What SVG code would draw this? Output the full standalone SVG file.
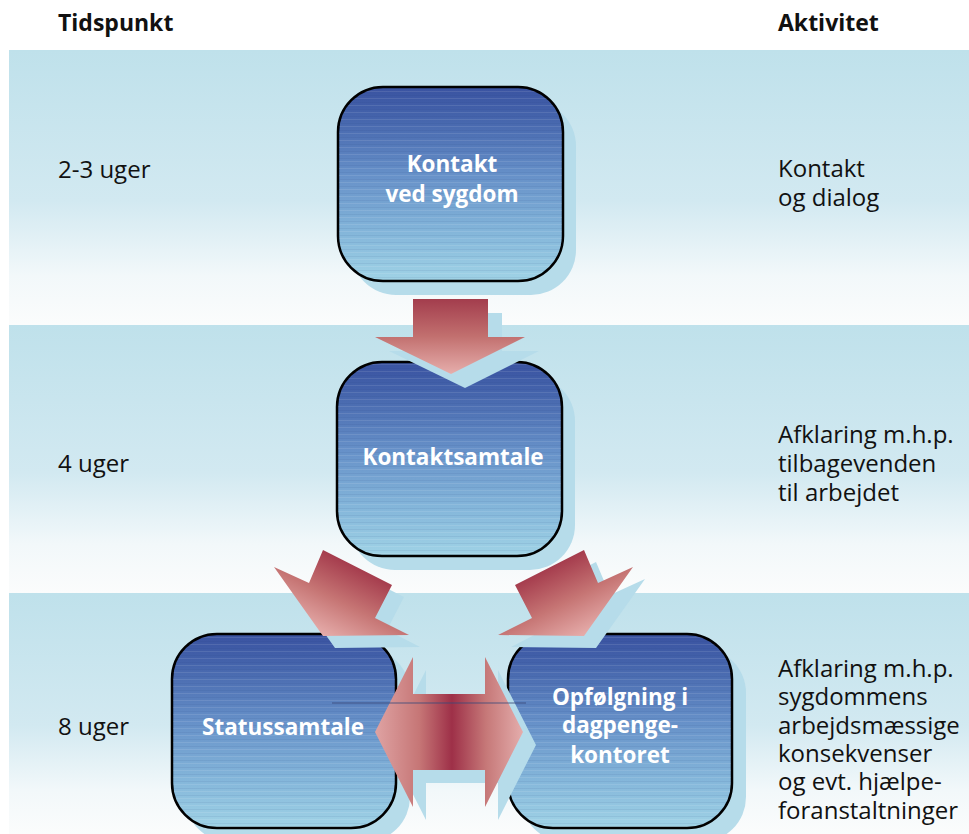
<svg xmlns="http://www.w3.org/2000/svg" width="969" height="834" viewBox="0 0 969 834">
<style>
.lbl{font-family:"Open Sans","Noto Sans","Liberation Sans",sans-serif;font-size:24px;fill:#111}
.hd{font-family:"Open Sans","Noto Sans","Liberation Sans",sans-serif;font-size:23px;font-weight:bold;fill:#111}
.bx{font-family:"Open Sans","Noto Sans","Liberation Sans",sans-serif;font-size:22.5px;font-weight:bold;fill:#fff;text-anchor:middle}
.box{fill:url(#boxg);stroke:#000;stroke-width:2.5}
.stripe{fill:url(#stripes)}
.shadow{fill:#b6dcea}
</style>
<defs>
<linearGradient id="band" x1="0" y1="0" x2="0" y2="1">
<stop offset="0" stop-color="#bfe1eb"/>
<stop offset="0.55" stop-color="#d2e9f1"/>
<stop offset="0.82" stop-color="#f2f8fa"/>
<stop offset="1" stop-color="#fbfcfc"/>
</linearGradient>
<linearGradient id="boxg" x1="0" y1="0" x2="0" y2="1">
<stop offset="0" stop-color="#3a53a1"/>
<stop offset="0.15" stop-color="#4463ab"/>
<stop offset="0.45" stop-color="#6690c8"/>
<stop offset="0.75" stop-color="#84b6da"/>
<stop offset="1" stop-color="#a0d3e6"/>
</linearGradient>
<pattern id="stripes" width="10" height="7" patternUnits="userSpaceOnUse">
<rect x="0" y="0" width="10" height="1" fill="#ffffff" opacity="0.10"/>
<rect x="0" y="4" width="10" height="1" fill="#1a2f70" opacity="0.08"/>
</pattern>
<linearGradient id="downg" gradientUnits="userSpaceOnUse" x1="0" y1="299" x2="0" y2="374">
<stop offset="0" stop-color="#a33d4d"/>
<stop offset="0.5" stop-color="#c2706f"/>
<stop offset="1" stop-color="#e6aeac"/>
</linearGradient>
<linearGradient id="lg" gradientUnits="userSpaceOnUse" x1="357" y1="567" x2="323" y2="636">
<stop offset="0" stop-color="#a53c4d"/>
<stop offset="0.5" stop-color="#c67574"/>
<stop offset="1" stop-color="#e6adab"/>
</linearGradient>
<linearGradient id="rg" gradientUnits="userSpaceOnUse" x1="550" y1="567" x2="584" y2="636">
<stop offset="0" stop-color="#a53c4d"/>
<stop offset="0.5" stop-color="#c67574"/>
<stop offset="1" stop-color="#e6adab"/>
</linearGradient>
<linearGradient id="hg" gradientUnits="userSpaceOnUse" x1="375" y1="0" x2="523" y2="0">
<stop offset="0" stop-color="#dfa3a3"/>
<stop offset="0.3" stop-color="#c67676"/>
<stop offset="0.52" stop-color="#9e3048"/>
<stop offset="0.75" stop-color="#c67878"/>
<stop offset="1" stop-color="#e4adac"/>
</linearGradient>
</defs>
<rect width="969" height="834" fill="#ffffff"/>
<g id="bands">
<rect x="9" y="50" width="960" height="275" fill="url(#band)"/>
<rect x="9" y="325" width="960" height="268" fill="url(#band)"/>
<rect x="9" y="593" width="960" height="241" fill="url(#band)"/>
</g>
<g id="headers">
<text class="hd" x="58" y="31">Tidspunkt</text>
<text class="hd" x="778" y="31">Aktivitet</text>
</g>
<g id="times">
<text class="lbl" x="58" y="178">2-3 uger</text>
<text class="lbl" x="58" y="472">4 uger</text>
<text class="lbl" x="58" y="735">8 uger</text>
</g>
<g id="activities">
<text class="lbl" x="778" y="177">Kontakt</text>
<text class="lbl" x="778" y="206">og dialog</text>
<text class="lbl" x="778" y="443">Afklaring m.h.p.</text>
<text class="lbl" x="778" y="472">tilbagevenden</text>
<text class="lbl" x="778" y="501">til arbejdet</text>
<text class="lbl" x="778" y="677">Afklaring m.h.p.</text>
<text class="lbl" x="778" y="705">sygdommens</text>
<text class="lbl" x="778" y="734">arbejdsmæssige</text>
<text class="lbl" x="778" y="762">konsekvenser</text>
<text class="lbl" x="778" y="790">og evt. hjælpe-</text>
<text class="lbl" x="778" y="819">foranstaltninger</text>
</g>
<g id="node-kontakt">
<rect class="shadow" x="351" y="101" width="225" height="194" rx="45"/>
<rect class="box" x="338" y="87" width="225" height="194" rx="45"/>
<rect class="stripe" x="339" y="88" width="223" height="192" rx="44"/>
<text class="bx" x="452" y="172">Kontakt</text>
<text class="bx" x="452" y="202">ved sygdom</text>
</g>
<g id="node-kontaktsamtale">
<rect class="shadow" x="350" y="376" width="225" height="194" rx="45"/>
<rect class="box" x="337" y="362" width="225" height="194" rx="45"/>
<rect class="stripe" x="338" y="363" width="223" height="192" rx="44"/>
<text class="bx" x="453" y="465">Kontaktsamtale</text>
</g>
<g id="node-statussamtale">
<rect class="shadow" x="185" y="648" width="225" height="194" rx="45"/>
<rect class="box" x="172" y="634" width="224" height="194" rx="45"/>
<rect class="stripe" x="173" y="635" width="222" height="192" rx="44"/>
<text class="bx" x="283" y="735">Statussamtale</text>
</g>
<g id="node-opfoelgning">
<rect class="shadow" x="521" y="648" width="225" height="194" rx="45"/>
<rect class="box" x="508" y="634" width="224" height="194" rx="45"/>
<rect class="stripe" x="509" y="635" width="222" height="192" rx="44"/>
<text class="bx" x="620" y="705">Opfølgning i</text>
<text class="bx" x="620" y="733">dagpenge-</text>
<text class="bx" x="620" y="763">kontoret</text>
</g>
<g id="connectors">
<polygon class="shadow" points="427,313 502,313 502,351 539,351 465,388 389,351 427,351"/>
<polygon fill="url(#downg)" points="413,299 488,299 488,337 525,337 451,374 375,337 413,337"/>
<polygon class="shadow" points="335,562 404,597 387,630 420,647 335,648 286,579 321,595"/>
<polygon fill="url(#lg)" points="323,550 392,585 375,618 409,635 323,636 274,567 309,583"/>
<polygon class="shadow" points="596,562 527,597 544,630 511,647 596,648 645,579 610,595"/>
<polygon fill="url(#rg)" points="584,550 515,585 532,618 498,635 584,636 633,567 598,583"/>
<polygon class="shadow" points="388,745 426,670 426,707 498,707 498,670 536,745 498,820 498,783 426,783 426,820"/>
<polygon fill="url(#hg)" points="375,732 413,657 413,694 485,694 485,657 523,732 485,807 485,770 413,770 413,807"/>
<line x1="332" y1="703" x2="526" y2="703" stroke="#3a4a7a" stroke-width="1.5" opacity="0.55"/>
</g>
</svg>
